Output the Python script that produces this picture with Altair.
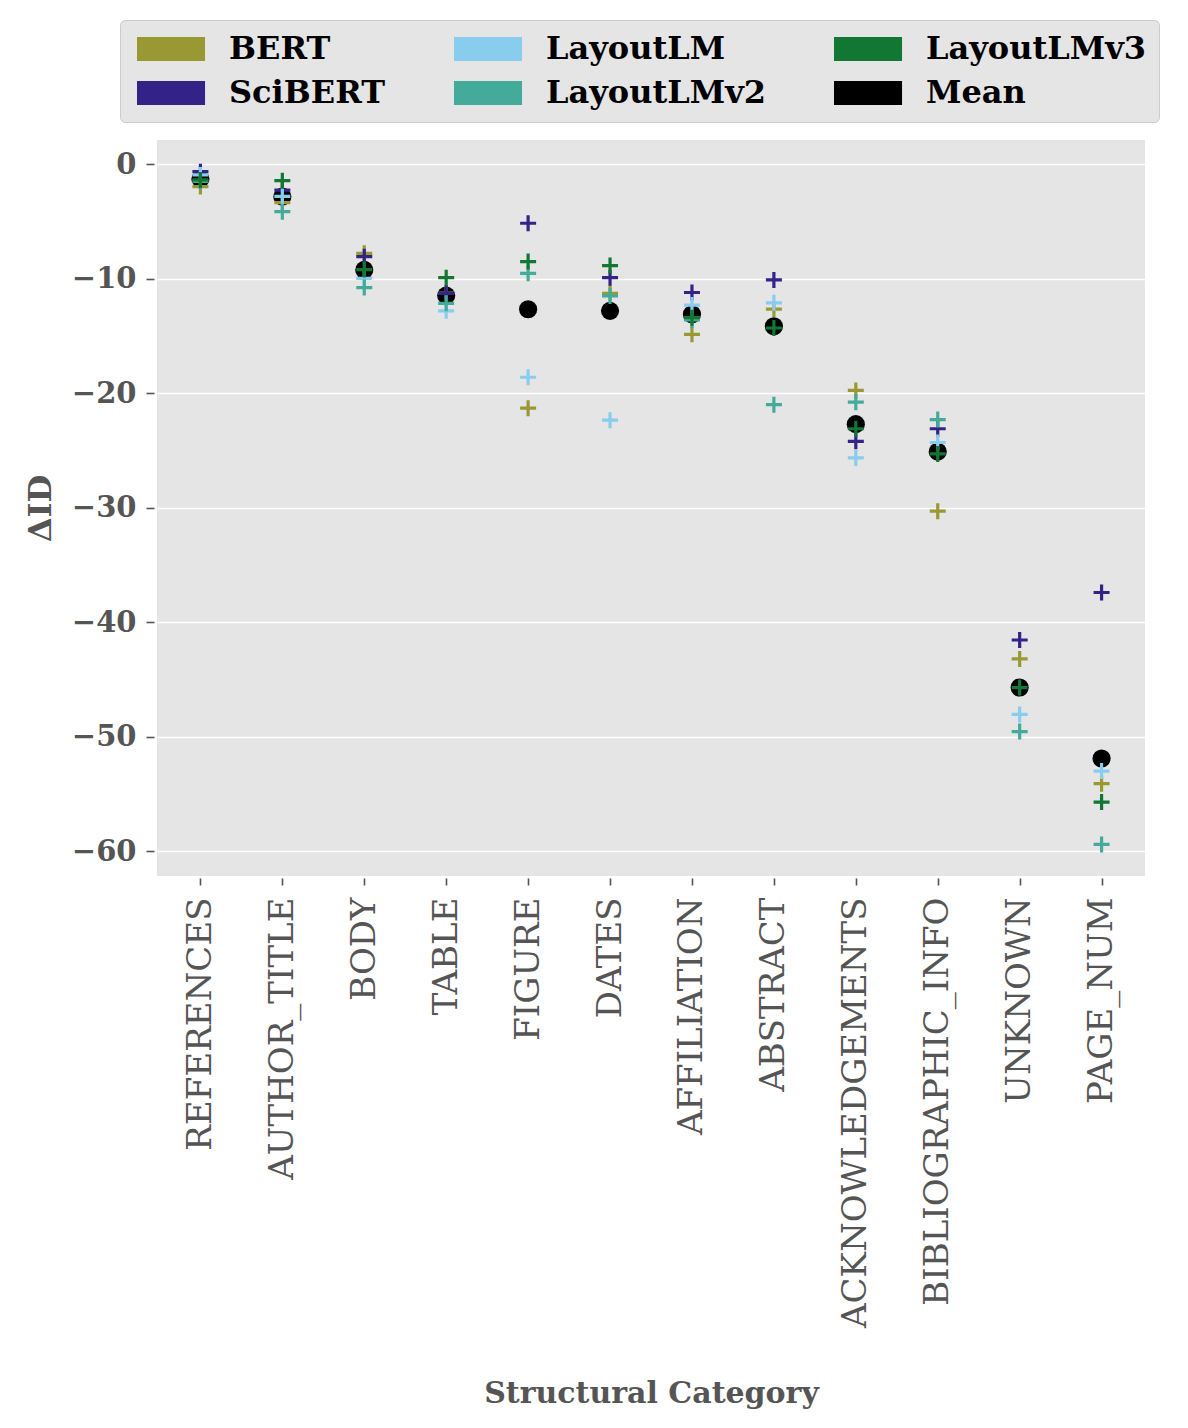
import altair as alt
import pandas as pd

categories = ["REFERENCES", "AUTHOR_TITLE", "BODY", "TABLE", "FIGURE", "DATES",
              "AFFILIATION", "ABSTRACT", "ACKNOWLEDGEMENTS", "BIBLIOGRAPHIC_INFO",
              "UNKNOWN", "PAGE_NUM"]

models = ["BERT", "SciBERT", "LayoutLM", "LayoutLMv2", "LayoutLMv3"]
bert = [-1.95, -3.35, -7.78, -11.25, -21.3, -11.27, -14.85, -12.65, -19.75, -30.3, -43.2, -54.1]
scibert = [-0.65, -2.25, -8.07, -11.27, -5.15, -9.9, -11.2, -10.1, -24.2, -23.1, -41.55, -37.4]
layoutlm = [-0.93, -2.8, -9.96, -12.8, -18.6, -22.35, -12.3, -12.1, -25.65, -24.3, -48.05, -53.0]
layoutlmv2 = [-1.5, -4.14, -10.77, -12.14, -9.52, -11.5, -13.6, -21.0, -20.78, -22.3, -49.55, -59.4]
layoutlmv3 = [-1.37, -1.43, -9.2, -9.9, -8.5, -8.85, -13.4, -14.3, -23.1, -25.3, -45.7, -55.7]
mean_vals = [-1.28, -2.83, -9.23, -11.47, -12.66, -12.8, -13.1, -14.15, -22.7, -25.1, -45.7, -51.9]

legend_order = ["BERT", "SciBERT", "LayoutLM", "LayoutLMv2", "LayoutLMv3", "Mean"]
legend_colors = ["#999933", "#332288", "#88CCEE", "#44AA99", "#117733", "#000000"]

y_ticks = [0, -10, -20, -30, -40, -50, -60]

rows = []
for m, vals in zip(models, [bert, scibert, layoutlm, layoutlmv2, layoutlmv3]):
    for c, v in zip(categories, vals):
        rows.append({"category": c, "model": m, "value": v})
cross_df = pd.DataFrame(rows)
mean_df = pd.DataFrame({"category": categories, "model": ["Mean"] * len(categories), "value": mean_vals})

FONT = "DejaVu Serif"
PLUS = "M-1,-0.2H-0.2V-1H0.2V-0.2H1V0.2H0.2V1H-0.2V0.2H-1Z"
RECT = "M-1,-1H4.67V1H-1Z"

x_enc = alt.X(
    "category:N", sort=categories,
    scale=alt.Scale(type="point", padding=0.53),
    axis=alt.Axis(title="Structural Category", labelAngle=270, labelFont=FONT,
                  labelFontSize=34, labelFontWeight="normal", labelPadding=12,
                  tickSize=7, offset=2,
                  labelLimit=0, titleFont=FONT, titleFontSize=30,
                  titleFontWeight="bold", titleColor="#555555", titleY=524,
                  titleBaseline="alphabetic"),
)
y_enc = alt.Y(
    "value:Q",
    scale=alt.Scale(domain=[-62.16, 2.12], nice=False, zero=False),
    axis=alt.Axis(values=y_ticks, title="ΔID", labelFont=FONT, labelFontWeight="bold",
                  labelFontSize=29, labelPadding=10, tickSize=8, offset=3,
                  titleFont=FONT, titleFontSize=32,
                  titleFontWeight="bold", titleColor="#555555", titleX=-114,
                  titleBaseline="middle"),
)
color_scale = alt.Scale(domain=legend_order, range=legend_colors)
legend = alt.Legend(
    title=None, orient="none", legendX=-37, legendY=-120, columns=3,
    symbolType=RECT, symbolSize=576, symbolStrokeWidth=0, symbolOpacity=1,
    labelOffset=64, labelFont=FONT, labelFontWeight="bold", labelFontSize=32,
    labelColor="black", labelLimit=0, columnPadding=64, rowPadding=12,
    padding=13, fillColor="#E5E5E5", strokeColor="#CCCCCC", cornerRadius=5,
)

mean_layer = alt.Chart(mean_df).mark_circle(size=330, opacity=1).encode(
    x=x_enc, y=y_enc,
    color=alt.Color("model:N", scale=color_scale, legend=legend),
)
cross_layer = alt.Chart(cross_df).mark_point(
    shape=PLUS, size=256, filled=True, opacity=1, strokeWidth=0
).encode(
    x=x_enc, y=y_enc,
    color=alt.Color("model:N", scale=color_scale, legend=legend),
)

chart = alt.layer(mean_layer, cross_layer).properties(
    width=988, height=736,
    autosize=alt.AutoSizeParams(type="none"),
    padding={"left": 149, "top": 132, "right": 30, "bottom": 540},
    background="white",
).configure_view(
    fill="#E5E5E5", strokeWidth=0
).configure_axis(
    domain=False, gridColor="white", gridWidth=1.6, tickColor="#555555",
    tickWidth=1.6, labelColor="#555555",
)

chart.save("out.html", embed_options={"renderer": "svg", "actions": False})
